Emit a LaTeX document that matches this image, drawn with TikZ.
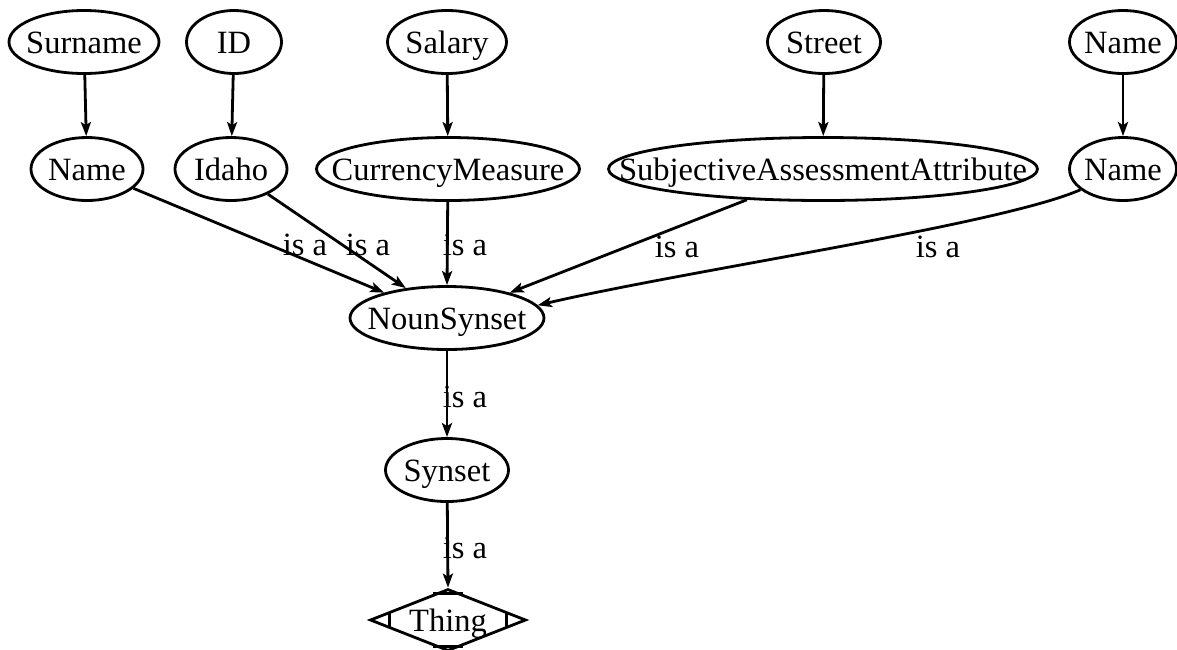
\documentclass[tikz,border=0pt]{standalone}
\usepackage{fontspec}
\setmainfont{Liberation Serif}
\usetikzlibrary{shapes.geometric,arrows.meta,calc}
\begin{document}
\begin{tikzpicture}[x=1pt,y=-1pt,
  every node/.style={font=\fontsize{32.5}{38}\selectfont},
  ell/.style={ellipse,draw,line width=2.8pt,inner sep=0pt,minimum height=63pt,text height=30pt,text depth=8pt},
  dia/.style={diamond,draw,line width=2.8pt,inner sep=0pt,minimum width=156pt,minimum height=62pt,text height=30pt,text depth=8pt},
  lbl/.style={inner sep=0pt},
  arr/.style={line width=2.8pt,-{Stealth[length=14pt,width=10pt,inset=3pt]}},
  cutline/.style={line width=2.8pt}]
\useasboundingbox (0,0) rectangle (1177,649);
% top row
\node[ell,minimum width=150pt] (surname) at (84,42) {\makebox[0pt]{Surname}};
\node[ell,minimum width=95pt] (id) at (234,42) {\makebox[0pt]{ID}};
\node[ell,minimum width=119pt] (salary) at (447,42) {\makebox[0pt]{Salary}};
\node[ell,minimum width=113pt] (street) at (824,42) {\makebox[0pt]{Street}};
\node[ell,minimum width=107pt] (nametop) at (1123,42) {\makebox[0pt]{Name}};
% second row
\node[ell,minimum width=112pt] (name) at (87,169) {\makebox[0pt]{Name}};
\node[ell,minimum width=112pt] (idaho) at (231,169) {\makebox[0pt]{Idaho}};
\node[ell,minimum width=263pt] (currency) at (448,169) {\makebox[0pt]{CurrencyMeasure}};
\node[ell,minimum width=429pt] (subj) at (823,169) {\makebox[0pt]{SubjectiveAssessmentAttribute}};
\node[ell,minimum width=107pt] (nameright) at (1123,169) {\makebox[0pt]{Name}};
% lower nodes
\node[ell,minimum width=194pt] (noun) at (447,318) {\makebox[0pt]{NounSynset}};
\node[ell,minimum width=123pt] (synset) at (447,470) {\makebox[0pt]{Synset}};
\node[dia] (thing) at (448,620) {\makebox[0pt]{Thing}};
\draw[cutline] ($(thing.north)!0.19!(thing.west)$) -- ($(thing.north)!0.19!(thing.east)$);
\draw[cutline] ($(thing.south)!0.19!(thing.west)$) -- ($(thing.south)!0.19!(thing.east)$);
\draw[cutline] ($(thing.west)!0.26!(thing.north)$) -- ($(thing.west)!0.26!(thing.south)$);
\draw[cutline] ($(thing.east)!0.26!(thing.north)$) -- ($(thing.east)!0.26!(thing.south)$);
% top edges
\draw[arr] (surname) -- (name);
\draw[arr] (id) -- (idaho);
\draw[arr] (salary) -- (currency);
\draw[arr] (street) -- (subj);
\draw[arr] (nametop) -- (nameright);
% is a edges
\draw[arr] (name) -- (noun.158);
\draw[arr] (idaho) -- (noun.144);
\draw[arr] (currency) -- (noun.north);
\draw[arr] (subj.202) -- (noun.22);
\draw[arr] (nameright.206) .. controls +(-80,35) and +(150,-35) .. (noun.8);
\draw[arr] (noun) -- (synset);
\draw[arr] (synset) -- (thing.north);
% labels
\node[lbl] (l1) at (305,245) {is a};
\node[lbl] (l2) at (368,245) {is a};
\node[lbl] (l3) at (465,245) {is a};
\node[lbl] (l4) at (677,247) {is a};
\node[lbl] (l5) at (938,247) {is a};
\node[lbl] (l6) at (465,397) {is a};
\node[lbl] (l7) at (465,548) {is a};
\end{tikzpicture}
\end{document}
